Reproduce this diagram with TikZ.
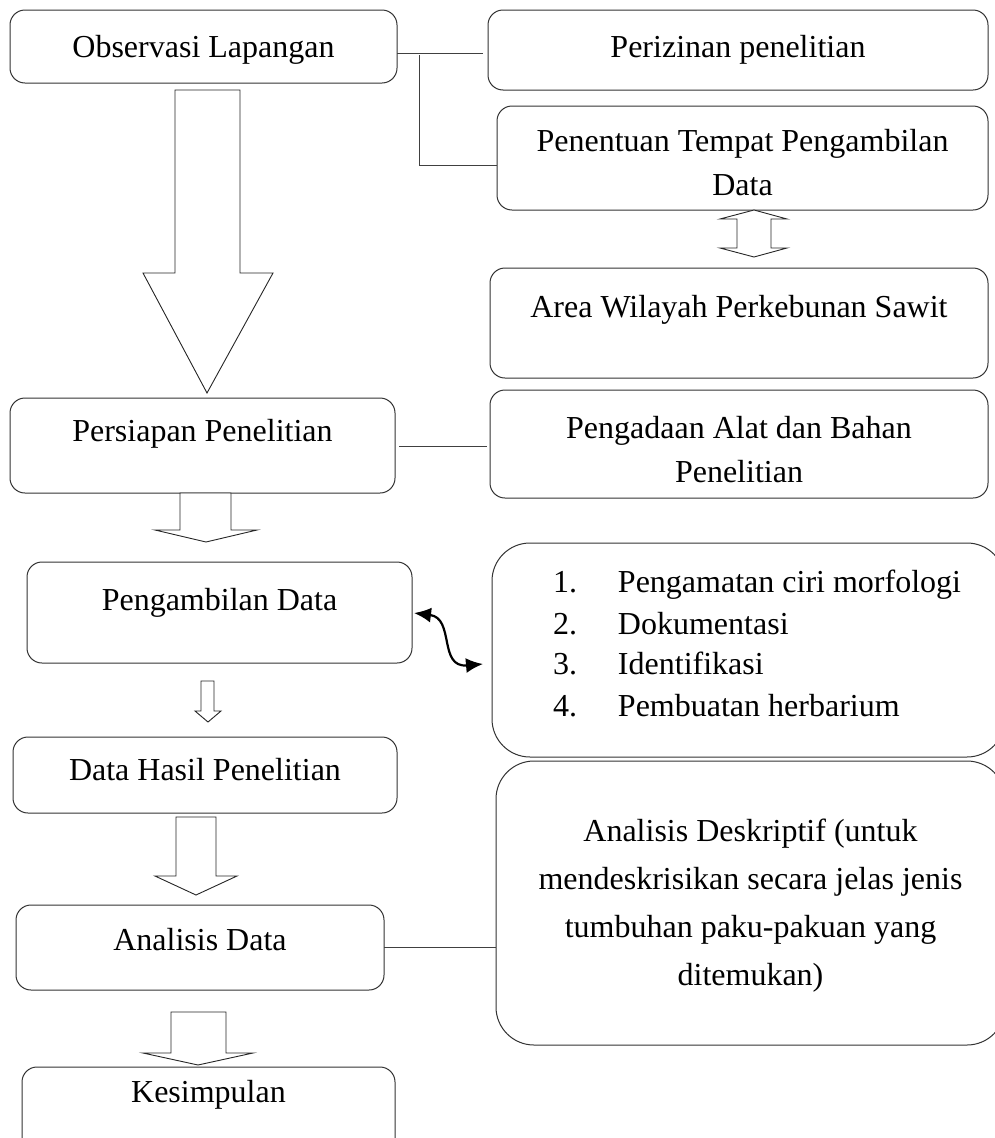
\documentclass[tikz,border=0pt]{standalone}
\usepackage{fontspec}
\setmainfont{Liberation Serif}
\usetikzlibrary{arrows.meta}
\tikzset{
  box/.style={draw=black!80, line width=1pt, rounded corners=15pt, inner sep=0pt, outer sep=0pt, fill=white},
  bigbox/.style={box, rounded corners=38pt},
  barrow/.style={draw=black!85, line width=0.9pt, fill=white, line join=miter},
  conn/.style={draw=black!75, line width=1pt}
}
\newcommand{\bx}[8]{%
  \node[box,#6] (#1) at ({(#2+#4)/2},{(#3+#5)/2})
  {\begin{minipage}[c][\dimexpr#5pt-#3pt\relax][t]{\dimexpr#4pt-#2pt\relax}\centering\rule{0pt}{#7pt}#8\end{minipage}};}
\begin{document}
\begin{tikzpicture}[x=1pt,y=-1pt]
\useasboundingbox (0,0) rectangle (995,1138);
\fontsize{32}{44}\selectfont
\begin{scope}
\clip (0,0) rectangle (995,1138);
% left column
\bx{obs}{10}{10}{397}{83}{}{47}{Observasi Lapangan}
\bx{pers}{10}{398}{395}{493}{}{43}{Persiapan Penelitian}
\bx{peng}{27}{562}{412}{663}{}{48}{Pengambilan Data}
\bx{hasil}{13}{737}{397}{813}{}{43}{Data Hasil Penelitian}
\bx{anal}{16}{905}{384}{990}{}{45}{Analisis Data}
\bx{kes}{22}{1067}{395}{1160}{}{35}{Kesimpulan}
% right column
\bx{izin}{488}{10}{988}{90}{}{47}{Perizinan penelitian}
\bx{tempat}{497}{106}{988}{210}{}{45}{Penentuan Tempat Pengambilan\\Data}
\bx{area}{490}{268}{988}{378}{}{49}{Area Wilayah Perkebunan Sawit}
\bx{alat}{490}{390}{988}{498}{}{48}{Pengadaan Alat dan Bahan\\Penelitian}
\node[bigbox] (list) at ({(492+1005)/2},{(543+757)/2})
  {\begin{minipage}[c][214pt][t]{513pt}\raggedright\rule{0pt}{49pt}%
   \hspace*{61pt}\makebox[65pt][l]{1.}Pengamatan ciri morfologi\\[-2pt]
   \hspace*{61pt}\makebox[65pt][l]{2.}Dokumentasi\\[-4pt]
   \hspace*{61pt}\makebox[65pt][l]{3.}Identifikasi\\[-2pt]
   \hspace*{61pt}\makebox[65pt][l]{4.}Pembuatan herbarium\end{minipage}};
\node[bigbox] (desk) at ({(496+1005)/2},{(761+1045)/2})
  {\begin{minipage}[c][284pt][t]{509pt}\centering\fontsize{32}{48}\selectfont\rule{0pt}{80pt}%
   Analisis Deskriptif (untuk\\mendeskrisikan secara jelas jenis\\tumbuhan paku-pakuan yang\\ditemukan)\end{minipage}};
\end{scope}
% block arrows
\draw[barrow] (175,90) -- (240,90) -- (240,273) -- (273,273) -- (207,393) -- (143,273) -- (175,273) -- cycle;
\draw[barrow] (180,493) -- (231,493) -- (231,530) -- (257,530) -- (206,542) -- (155,530) -- (180,530) -- cycle;
\draw[barrow] (201,681) -- (214,681) -- (214,711) -- (221,711) -- (208,722) -- (195,711) -- (201,711) -- cycle;
\draw[barrow] (176,817) -- (216,817) -- (216,876) -- (237,876) -- (196,895) -- (155,876) -- (176,876) -- cycle;
\draw[barrow] (171,1012) -- (226,1012) -- (226,1053) -- (253,1053) -- (198,1065) -- (143,1053) -- (171,1053) -- cycle;
\draw[barrow] (754,210) -- (787,219) -- (771,219) -- (771,248) -- (787,248) -- (754,257) -- (720,248) -- (737,248) -- (737,219) -- (720,219) -- cycle;
% connector lines
\coordinate (c1) at (483,53);
\draw[conn] (obs.east |- c1) -- (c1);
\coordinate (c2a) at (419,55);
\coordinate (c2b) at (419,165);
\draw[conn] (c2a) -- (c2b) -- (tempat.west |- c2b);
\coordinate (c3) at (487,446);
\draw[conn] ([xshift=4pt]pers.east |- c3) -- (c3);
\coordinate (c4) at (480,947);
\draw[conn] (anal.east |- c4) -- (desk.west |- c4);
% curved double arrow
\coordinate (d1) at (414,613);
\coordinate (d2) at (483,664);
\draw[line width=2.2pt, {Latex[length=17pt,width=15pt]}-{Latex[length=17pt,width=15pt]}] (d1) .. controls (455,618) and (438,668) .. (d2);
\end{tikzpicture}
\end{document}
